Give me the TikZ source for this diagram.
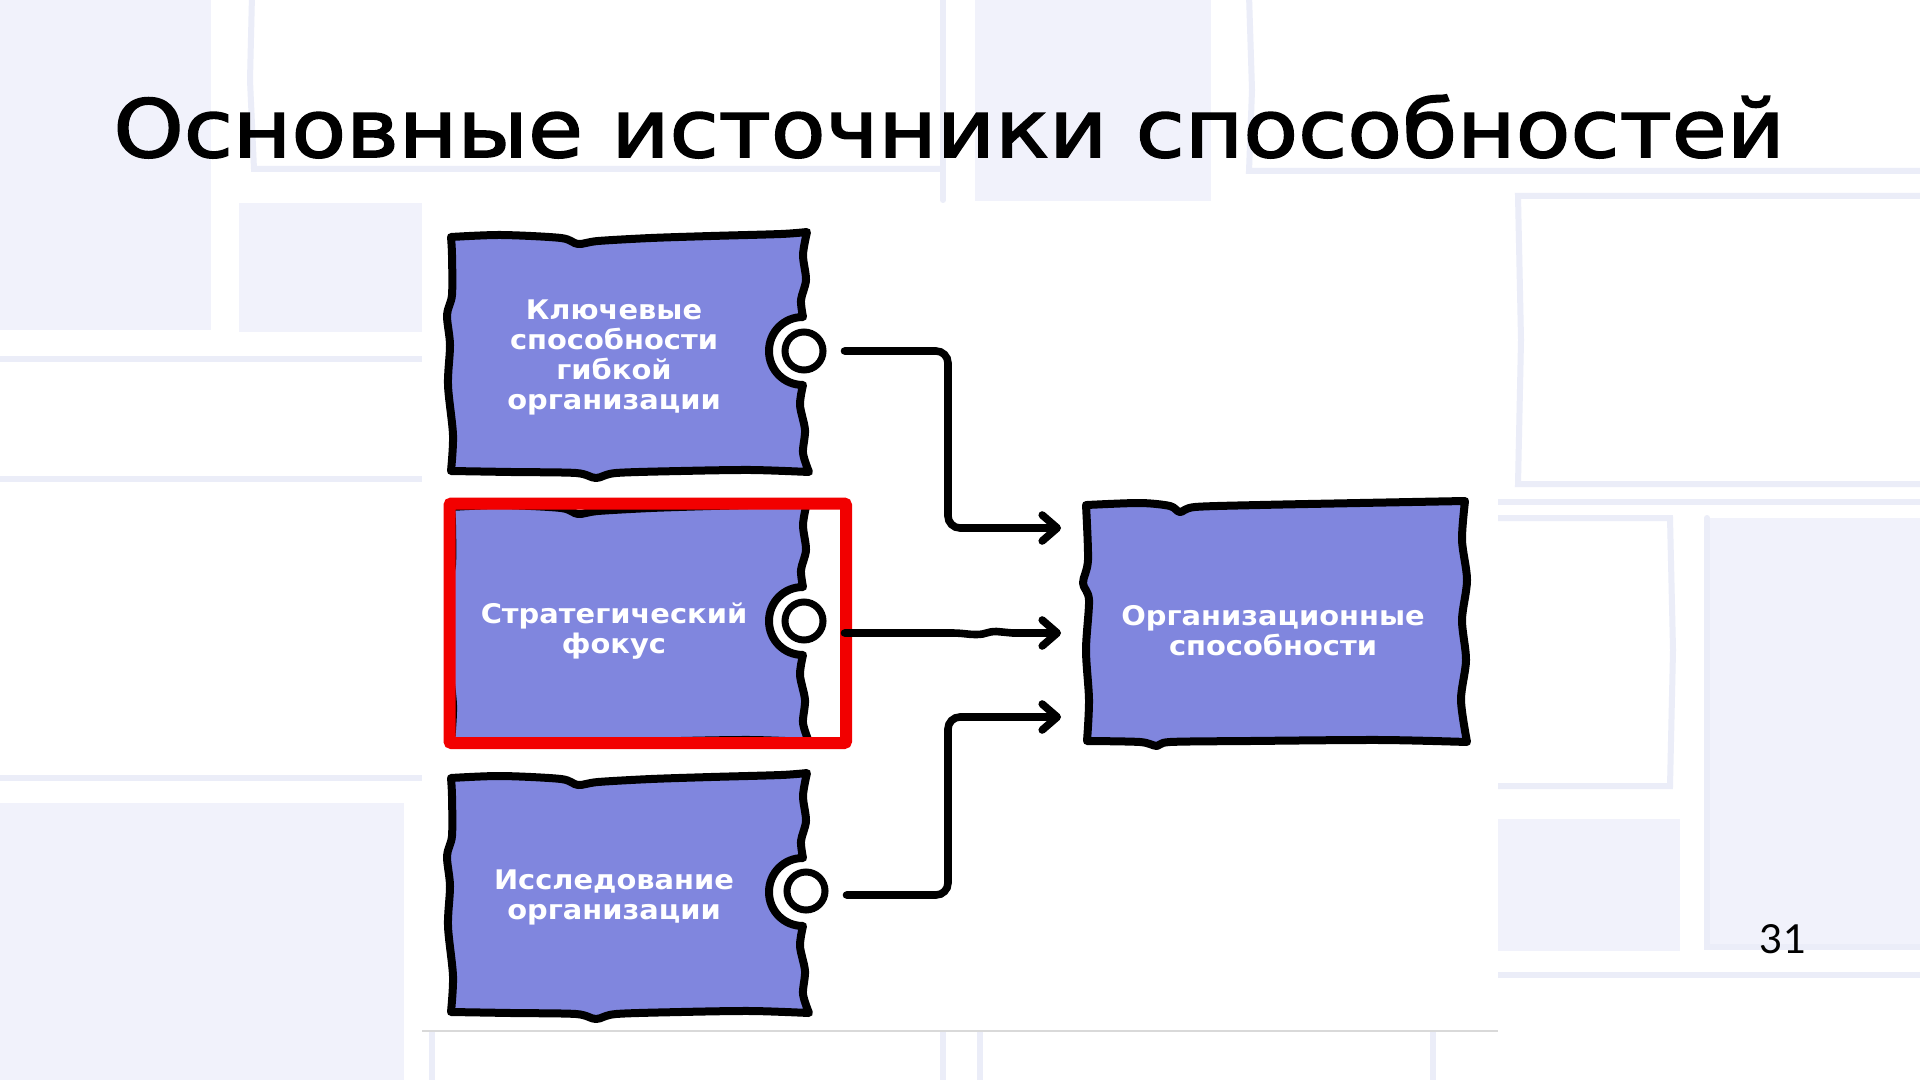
\documentclass[tikz,border=0pt]{standalone}
\usepackage{fontspec}
\setmainfont{DejaVu Sans}
\newfontfamily\titlefont{DejaVu Sans}[FakeStretch=1.118, FakeBold=2.2]
\newfontfamily\labelfont{DejaVu Sans}[FakeStretch=1.07]
\newfontfamily\numfont{Lato}
\usetikzlibrary{arrows.meta,calc}
\definecolor{boxfill}{HTML}{8086DE}
\definecolor{bgfill}{HTML}{F1F2FB}
\definecolor{bgline}{HTML}{EBEDF8}
\definecolor{panelline}{HTML}{D9D9D9}
\definecolor{frame}{HTML}{F20000}
\tikzset{
  boxline/.style={line width=4pt, line join=round, line cap=round, fill=boxfill, draw=black},
  port/.style={circle, draw=black, fill=white, line width=3.5pt, minimum size=19pt, inner sep=0pt},
  conn/.style={line width=3.8pt, line cap=round, rounded corners=6pt, -{Straight Barb[length=7.5pt,width=13pt,round]}},
  lbl/.style={text=white, align=center, inner sep=0pt, font=\labelfont\bfseries\fontsize{13.5}{15}\selectfont},
  bgblock/.style={fill=bgfill, draw=none},
  bgedge/.style={draw=bgline, line width=3pt, line cap=round},
  srcshape/.pic={
    \path[boxline]
      plot[smooth, tension=0.5] coordinates {(0,2) (50,0) (110,3) (127,9) (147,6) (200,3) (260,1) (330,-1) (356,-3)}
      -- plot[smooth, tension=0.5] coordinates {(356,-3) (352,20) (355,45) (350,65) (352,82)}
      .. controls (333,82) and (318,97) .. (318,116)
      .. controls (318,135) and (333,150) .. (352,150)
      -- plot[smooth, tension=0.5] coordinates {(352,150) (349,170) (354,195) (352,218) (358,237)}
      -- plot[smooth, tension=0.5] coordinates {(358,237) (300,235) (230,236) (165,238) (145,243) (125,238) (60,237) (0,236)}
      -- plot[smooth, tension=0.5] coordinates {(0,236) (2,200) (-3,150) (-1,110) (-4,80) (1,60) (1,20) (0,2)}
      -- cycle;
  }
}
\begin{document}
\begin{tikzpicture}[x=0.5pt,y=-0.5pt]
\useasboundingbox (0,0) rectangle (1920,1080);
\fill[white] (0,0) rectangle (1920,1080);
% background pattern
\fill[bgblock] (0,0) rectangle (211,330);
\fill[bgblock] (239,203) rectangle (422,332);
\fill[bgblock] (975,0) rectangle (1211,201);
\fill[bgblock] (0,803) rectangle (404,1080);
\fill[bgblock] (1498,819) rectangle (1680,951);
\fill[bgblock] (1707,518) rectangle (1920,947);
\draw[bgedge] (252,-5) -- (250,80) -- (254,169) -- (940,169);
\draw[bgedge] (943,-5) -- (943,200);
\draw[bgedge] (1249,-5) -- (1252,90) -- (1249,171) -- (1925,171);
\draw[bgedge] (1925,196) -- (1518,196) -- (1521,340) -- (1518,484) -- (1925,484);
\draw[bgedge] (-5,359) -- (422,359);
\draw[bgedge] (-5,479) -- (422,479);
\draw[bgedge] (-5,778) -- (422,778);
\draw[bgedge] (1498,518) -- (1670,518) -- (1673,650) -- (1670,786) -- (1498,786);
\draw[bgedge] (1498,502) -- (1925,502);
\draw[bgedge] (1498,975) -- (1925,975);
\draw[bgedge] (1707,518) -- (1707,947) -- (1925,947);
\draw[bgedge] (432,1031) -- (432,1085);
\draw[bgedge] (943,1031) -- (943,1085);
\draw[bgedge] (980,1031) -- (980,1085);
\draw[bgedge] (1433,1031) -- (1433,1085);
% white panel
\fill[white] (422,203) rectangle (1498,1031);
\draw[panelline, line width=0.8pt] (422,1031) -- (1498,1031);
% title and page number
\node[anchor=base west, inner sep=0pt, font=\titlefont\fontsize{40}{48}\selectfont] (title) at (113,157) {Основные источники способностей};
\node[anchor=base, inner sep=0pt, font=\numfont\fontsize{20}{24}\selectfont] (pnum) at (1783,953) {31};
% source boxes
\pic at (451,235) {srcshape};
\begin{scope}
  \clip (449.5,503.5) rectangle (846,743);
  \pic at (451,505) {srcshape};
\end{scope}
\pic at (451,776) {srcshape};
% target box
\path[boxline]
  plot[smooth, tension=0.5] coordinates {(1087,505) (1140,503) (1170,506) (1180,512) (1195,507) (1260,505) (1360,503) (1465,501)}
  -- plot[smooth, tension=0.5] coordinates {(1465,501) (1462,540) (1467,580) (1462,620) (1466,660) (1461,700) (1467,742)}
  -- plot[smooth, tension=0.5] coordinates {(1467,742) (1380,740) (1250,741) (1170,742) (1157,746) (1140,742) (1087,741)}
  -- plot[smooth, tension=0.5] coordinates {(1087,741) (1089,700) (1086,650) (1089,600) (1083,583) (1088,560) (1086,505)}
  -- cycle;
% labels
\node[lbl] (b1) at (614,357) {Ключевые\\способности\\гибкой\\организации};
\node[lbl] (b2) at (614,631) {Стратегический\\фокус};
\node[lbl] (b3) at (614,897) {Исследование\\организации};
\node[lbl] (tgt) at (1273,631) {Организационные\\способности};
% red frame
\draw[frame, line width=6pt, rounded corners=1pt] (449.5,503.5) rectangle (846,743);
% ports
\node[port] (p1) at (804,351) {};
\node[port] (p2) at (804,621) {};
\node[port] (p3) at (806,891) {};
% connector ends
\coordinate (in1) at (1061,528);
\coordinate (in2) at (1061,633);
\coordinate (in3) at (1061,717);
\coordinate (bus) at (948,630);
% connectors
\draw[conn, shorten <=9pt] (p1.east) -- (p1.east -| bus) |- (in1);
\draw[conn, rounded corners=0pt, shorten <=9pt] ([yshift=-6pt]p2.east) -- ++(125,0) .. controls +(12,0) and +(-10,0) .. ++(25,1.5) .. controls +(10,0) and +(-10,0) .. ++(20,-3) .. controls +(8,0) and +(-8,0) .. ++(16,1.5) -- (in2);
\draw[conn, shorten <=9pt] ([yshift=-2pt]p3.east) -- ([yshift=-2pt]p3.east -| bus) |- (in3);
\end{tikzpicture}
\end{document}
